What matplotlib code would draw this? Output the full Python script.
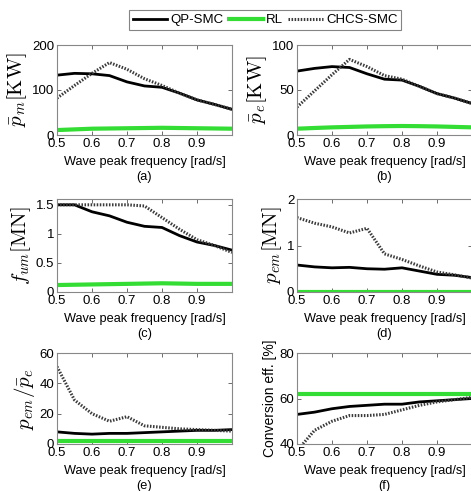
import numpy as np
from matplotlib import pyplot as plt

plt.rcParams['font.family'] = ['Liberation Sans', 'DejaVu Sans']
plt.rcParams['mathtext.fontset'] = 'cm'

freq = [0.5, 0.55, 0.6, 0.65, 0.7, 0.75, 0.8, 0.85, 0.9, 0.95, 1.0]

# (a) mean mechanical power [KW]
pm_qp = [133, 137, 136, 132, 118, 109, 106, 93, 78, 68, 57]
pm_rl = [11, 12.5, 14, 14.5, 15, 15.5, 16, 15.5, 15, 14.5, 14]
pm_ch = [82, 110, 137, 161, 146, 125, 110, 93, 78, 68, 57]

# (b) mean electrical power [KW]
pe_qp = [71, 74, 76, 75, 68, 62, 61, 54, 46, 41, 35]
pe_rl = [7, 7.8, 8.5, 9, 9.5, 9.8, 10, 9.8, 9.5, 9, 8.5]
pe_ch = [31, 49, 67, 84, 76, 66, 62, 54, 46, 41, 35]

# (c) max force [MN]
fu_qp = [1.5, 1.5, 1.38, 1.31, 1.2, 1.13, 1.11, 0.97, 0.86, 0.8, 0.72]
fu_rl = [0.12, 0.125, 0.13, 0.135, 0.14, 0.145, 0.15, 0.145, 0.14, 0.14, 0.14]
fu_ch = [1.5, 1.5, 1.5, 1.5, 1.5, 1.48, 1.28, 1.08, 0.9, 0.8, 0.68]

# (d) peak power [MN]
pem_qp = [0.58, 0.54, 0.52, 0.53, 0.5, 0.49, 0.52, 0.45, 0.38, 0.36, 0.31]
pem_rl = [0.01] * 11
pem_ch = [1.6, 1.48, 1.4, 1.27, 1.37, 0.82, 0.7, 0.56, 0.43, 0.37, 0.3]

# (e) peak-to-mean ratio
ratio_qp = [8, 7, 6.5, 7, 7, 7.5, 8, 8.5, 9, 9, 9.5]
ratio_rl = [2] * 11
ratio_ch = [51, 29, 20, 15, 18, 12, 11, 10, 9.5, 9, 8.5]

# (f) conversion efficiency [%]
eff_qp = [53, 54, 55.5, 56.5, 57, 57.5, 57.5, 58.5, 59, 59.5, 60]
eff_rl = [62] * 11
eff_ch = [37, 46, 50, 52.5, 52.5, 53, 55, 57, 58.5, 59.5, 60.5]

panels = [
    (pm_qp, pm_rl, pm_ch, (0, 200), [0, 100, 200], r'$\bar{p}_m[\mathrm{KW}]$', '(a)'),
    (pe_qp, pe_rl, pe_ch, (0, 100), [0, 50, 100], r'$\bar{p}_e[\mathrm{KW}]$', '(b)'),
    (fu_qp, fu_rl, fu_ch, (0, 1.6), [0, 0.5, 1, 1.5], r'$f_{um}[\mathrm{MN}]$', '(c)'),
    (pem_qp, pem_rl, pem_ch, (0, 2), [0, 1, 2], r'$p_{em}[\mathrm{MN}]$', '(d)'),
    (ratio_qp, ratio_rl, ratio_ch, (0, 60), [0, 20, 40, 60], r'$p_{em}/\bar{p}_e$', '(e)'),
    (eff_qp, eff_rl, eff_ch, (40, 80), [40, 60, 80], 'Conversion eff. [%]', '(f)'),
]

W, H = 471, 491
rows = [(45, 135), (199, 292), (353, 444)]
cols = [57, 297]
aw = 175

fig = plt.figure(figsize=(W / 100, H / 100), dpi=100)

for i, (qp, rl, ch, ylim, yt, ylab, tag) in enumerate(panels):
    r, c = divmod(i, 2)
    top, bot = rows[r]
    ax = fig.add_axes([cols[c] / W, 1 - bot / H, aw / W, (bot - top) / H])
    l1, = ax.plot(freq, qp, color='black', lw=2.0, label='QP-SMC')
    l2, = ax.plot(freq, rl, color='#33dd33', lw=3.0, label='RL')
    l3, = ax.plot(freq, ch, color='#3a3a3a', lw=2.2, ls=(0, (0.5, 0.5)), label='CHCS-SMC')
    ax.set_xlim(0.5, 1.0)
    ax.set_ylim(*ylim)
    ax.set_xticks([0.5, 0.6, 0.7, 0.8, 0.9])
    ax.set_xticklabels(['0.5', '0.6', '0.7', '0.8', '0.9'])
    ax.set_yticks(yt)
    ax.set_yticklabels([('%g' % v) for v in yt])
    ax.tick_params(direction='in', top=True, right=True, length=3, width=0.6,
                   labelsize=9.5, color='#555555')
    ax.tick_params(axis='x', pad=2.5)
    ax.tick_params(axis='y', pad=2)
    ax.get_yticklabels()[0].set_verticalalignment('center_baseline')
    for s in ax.spines.values():
        s.set_color('#888888')
        s.set_linewidth(0.8)
    cx = (cols[c] + aw / 2) / W
    fig.text(cx, 1 - (bot + 27) / H, 'Wave peak frequency [rad/s]', fontsize=9.2,
             ha='center', va='center')
    fig.text(cx, 1 - (bot + 42) / H, tag, fontsize=9.2, ha='center', va='center')
    if ylab.startswith('$'):
        ax.set_ylabel(ylab, fontsize=15, labelpad=2)
    else:
        ax.set_ylabel(ylab, fontsize=10, labelpad=2)

leg = fig.legend([l1, l2, l3], ['QP-SMC', 'RL', 'CHCS-SMC'], loc='center',
                 bbox_to_anchor=(265 / W, 1 - 20 / H), ncol=3, fontsize=9.5,
                 frameon=True, fancybox=False, edgecolor='#666666',
                 handlelength=2.6, columnspacing=0.4, handletextpad=0.25,
                 borderpad=0.3, borderaxespad=0)
leg.get_frame().set_linewidth(0.8)

fig.savefig('out.png', dpi=100)
